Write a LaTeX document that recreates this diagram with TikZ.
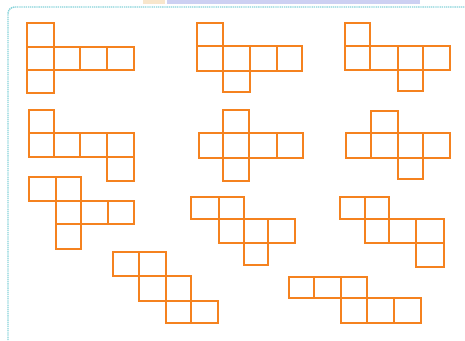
\documentclass[tikz,border=0pt]{standalone}
\begin{document}
\begin{tikzpicture}[x=0.75pt,y=-0.75pt,
  netline/.style={draw=netorange,line width=2.1pt,line join=miter},
  frameline/.style={draw=frameteal,line width=1.1pt,dash pattern=on 1pt off 0.6pt}]
\definecolor{netorange}{HTML}{F5821F}
\definecolor{frameteal}{HTML}{86D3DA}
\definecolor{striplav}{HTML}{CDD0F2}
\definecolor{stripor}{HTML}{F8E6CC}
\useasboundingbox (0,0) rectangle (465,340);
\fill[white] (0,0) rectangle (465,340);
% top strip
\fill[stripor] (143,0) rectangle (165,4);
\fill[striplav] (167,0) rectangle (420,4);
% frame
\draw[frameline,rounded corners=5pt] (8,340) -- (8,7) -- (465,7);
\newcommand\mycell[4]{\draw[netline] (#1,#2) rectangle (#3,#4);}
% Net 1
\mycell{27}{23}{54}{47}
\mycell{27}{47}{54}{70}\mycell{54}{47}{80}{70}\mycell{80}{47}{107}{70}\mycell{107}{47}{134}{70}
\mycell{27}{70}{54}{93}
% Net 2
\mycell{197}{23}{223}{46}
\mycell{197}{46}{223}{71}\mycell{223}{46}{250}{71}\mycell{250}{46}{277}{71}\mycell{277}{46}{302}{71}
\mycell{223}{71}{250}{92}
% Net 3
\mycell{345}{23}{370}{46}
\mycell{345}{46}{370}{70}\mycell{370}{46}{398}{70}\mycell{398}{46}{423}{70}\mycell{423}{46}{450}{70}
\mycell{398}{70}{423}{91}
% Net 4
\mycell{29}{110}{54}{133}
\mycell{29}{133}{54}{157}\mycell{54}{133}{80}{157}\mycell{80}{133}{107}{157}\mycell{107}{133}{134}{157}
\mycell{107}{157}{134}{181}
% Net 5
\mycell{223}{110}{249}{133}
\mycell{199}{133}{223}{158}\mycell{223}{133}{249}{158}\mycell{249}{133}{277}{158}\mycell{277}{133}{303}{158}
\mycell{223}{158}{249}{181}
% Net 6
\mycell{371}{111}{398}{133}
\mycell{346}{133}{371}{158}\mycell{371}{133}{398}{158}\mycell{398}{133}{423}{158}\mycell{423}{133}{450}{158}
\mycell{398}{158}{423}{179}
% Net 7
\mycell{29}{177}{56}{201}\mycell{56}{177}{81}{201}
\mycell{56}{201}{81}{224}\mycell{81}{201}{108}{224}\mycell{108}{201}{134}{224}
\mycell{56}{224}{81}{249}
% Net 8
\mycell{191}{197}{219}{219}\mycell{219}{197}{244}{219}
\mycell{219}{219}{244}{243}\mycell{244}{219}{268}{243}\mycell{268}{219}{295}{243}
\mycell{244}{243}{268}{265}
% Net 9
\mycell{340}{197}{365}{219}\mycell{365}{197}{389}{219}
\mycell{365}{219}{389}{243}\mycell{389}{219}{416}{243}\mycell{416}{219}{444}{243}
\mycell{416}{243}{444}{267}
% Net 10
\mycell{113}{252}{139}{276}\mycell{139}{252}{166}{276}
\mycell{139}{276}{166}{301}\mycell{166}{276}{191}{301}
\mycell{166}{301}{191}{323}\mycell{191}{301}{218}{323}
% Net 11
\mycell{289}{277}{314}{298}\mycell{314}{277}{341}{298}\mycell{341}{277}{367}{298}
\mycell{341}{298}{367}{323}\mycell{367}{298}{394}{323}\mycell{394}{298}{421}{323}
\end{tikzpicture}
\end{document}
